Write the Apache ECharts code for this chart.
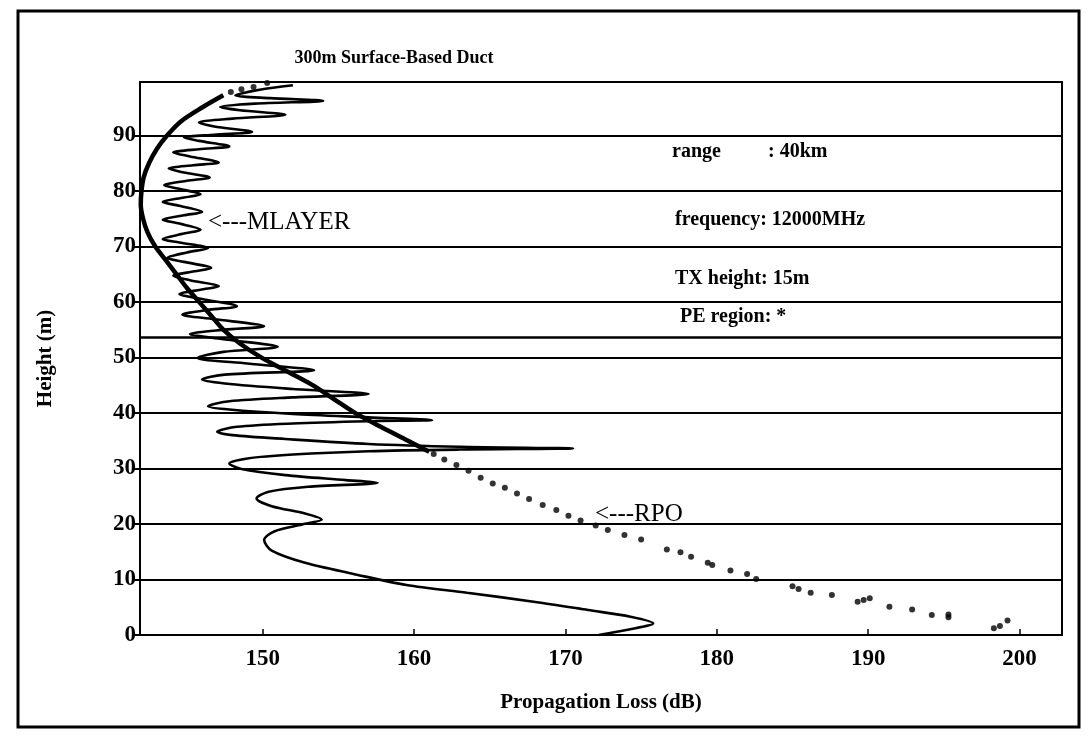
<!DOCTYPE html>
<html>
<head>
<meta charset="utf-8">
<script src="https://cdn.jsdelivr.net/npm/echarts@6/dist/echarts.min.js"></script>
<style>html,body{margin:0;padding:0;background:#fff;}#c{width:1089px;height:746px;}</style>
</head>
<body>
<div id="c"></div>
<script>
// ---- data ----
var xTicks = [150, 160, 170, 180, 190, 200];
var yTicks = [0, 10, 20, 30, 40, 50, 60, 70, 80, 90];
var peRegionHeight = 53.7;

// MLAYER (oscillating curve), loss (dB) and height (m), bottom to top
var mlayerLoss = [172.2,174.2,175.8,174.3,171.5,167.9,163.5,159.5,156.0,152.8,150.6,150.1,150.8,152.6,153.9,152.8,150.6,149.6,150.4,153.0,157.6,155.5,151.5,148.6,147.8,149.0,152.0,157.0,163.0,170.5,163.0,157.0,151.5,148.0,147.0,148.3,152.0,157.0,161.2,157.0,152.0,147.8,146.4,147.8,152.0,157.0,152.0,147.5,146.0,147.5,153.4,149.0,145.7,147.4,151.0,147.3,145.2,147.5,150.1,146.8,144.7,146.5,148.3,146.0,144.5,145.9,147.1,145.2,144.1,145.5,146.6,144.8,143.7,145.0,146.4,144.5,143.4,144.8,145.9,144.5,143.4,144.8,146.0,144.5,143.4,144.8,145.9,144.4,143.5,145.0,146.5,144.8,143.8,145.4,147.1,145.2,144.1,145.8,147.8,145.8,144.8,146.8,149.3,146.8,145.8,148.0,151.5,148.5,147.2,149.5,154.0,150.5,148.2,149.8,152.0];
var mlayerHeight = [0.0,1.0,2.1,3.3,4.5,6.0,7.6,9.0,11.0,13.0,15.2,17.1,18.7,19.9,20.8,21.9,23.2,24.6,25.8,26.7,27.4,27.9,28.8,29.9,30.9,31.8,32.5,33.1,33.4,33.6,33.9,34.4,35.3,36.0,36.6,37.5,38.1,38.5,38.7,39.2,39.8,40.6,41.2,42.1,42.8,43.4,44.3,45.3,46.0,46.9,47.7,48.9,49.9,51.0,51.9,53.3,54.2,55.0,55.6,56.9,57.7,58.6,59.2,60.5,61.4,62.2,62.8,63.9,64.7,65.5,66.1,67.2,67.9,68.9,69.7,70.7,71.3,72.3,73.0,74.1,74.8,75.6,76.2,77.3,78.0,78.8,79.4,80.4,81.0,81.8,82.4,83.3,84.0,84.6,85.1,86.2,86.9,87.5,88.0,89.0,89.6,90.1,90.6,91.6,92.3,93.0,93.7,94.5,95.1,95.7,96.2,96.7,97.2,98.2,99.0];

// RPO smooth (ray-optics) part
var rpoLoss = [147.4,146.0,144.6,143.7,143.0,142.5,142.15,142.0,141.95,142.1,142.4,142.9,143.6,144.3,145.0,145.8,146.6,147.4,148.5,149.9,151.6,153.3,154.7,156.1,157.8,159.6,161.0];
var rpoHeight = [97.2,95.0,92.5,90.0,87.5,85.0,82.5,80.0,77.5,75.0,72.5,70.0,67.5,65.0,62.5,60.0,57.5,55.0,52.5,50.0,47.5,45.0,42.5,40.0,37.5,35.0,33.0];

// RPO dotted part
var rpoDotLoss = [147.9,148.6,149.4,150.3,161.3,162.0,162.8,163.6,164.4,165.2,166.0,166.8,167.6,168.5,169.4,170.2,171.0,172.0,172.8,173.9,175.0,176.7,177.6,178.3,179.4,179.7,180.9,182.0,182.6,185.0,185.4,186.2,187.6,189.3,189.7,190.1,191.4,192.9,194.2,195.3,195.3,198.3,198.7,199.2];
var rpoDotHeight = [97.8,98.3,98.7,99.4,32.6,31.6,30.6,29.6,28.3,27.3,26.5,25.5,24.5,23.4,22.5,21.5,20.6,19.7,18.9,18.0,17.2,15.4,14.9,14.1,13.0,12.6,11.6,11.0,10.1,8.8,8.3,7.6,7.2,6.0,6.3,6.6,5.1,4.6,3.6,3.2,3.7,1.2,1.6,2.6];

function pairs(a, b) { var r = []; for (var i = 0; i < a.length; i++) r.push([a[i], b[i]]); return r; }

var serif = '"Liberation Serif", "DejaVu Serif", serif';
var chart = echarts.init(document.getElementById('c'), null, {renderer: 'canvas'});
chart.setOption({
  animation: false,
  backgroundColor: '#fff',
  title: {
    text: '300m Surface-Based Duct',
    left: 389, top: 44, textAlign: 'center',
    textStyle: {fontFamily: serif, fontWeight: 'bold', fontSize: 18, color: '#000'}
  },
  grid: {left: 140, right: 27, top: 82, bottom: 111, show: true, borderColor: '#000', borderWidth: 2, backgroundColor: 'transparent'},
  xAxis: {
    type: 'value', min: 141.9, max: 202.8,
    name: 'Propagation Loss (dB)', nameLocation: 'middle', nameGap: 57,
    nameTextStyle: {fontFamily: serif, fontWeight: 'bold', fontSize: 21, color: '#000'},
    axisLine: {lineStyle: {color: '#000', width: 2}},
    axisTick: {inside: true, length: 6, customValues: xTicks, lineStyle: {color: '#000', width: 1.5}},
    axisLabel: {customValues: xTicks, margin: 13, fontFamily: serif, fontWeight: 'bold', fontSize: 23, color: '#000'},
    splitLine: {show: false}
  },
  yAxis: {
    type: 'value', min: 0, max: 99.6, interval: 10,
    name: 'Height (m)', nameLocation: 'middle', nameGap: 84, nameRotate: 90,
    nameTextStyle: {fontFamily: serif, fontWeight: 'bold', fontSize: 21, color: '#000'},
    axisLine: {show: true, lineStyle: {color: '#000', width: 2}},
    axisTick: {show: true, length: 6, customValues: yTicks, lineStyle: {color: '#000', width: 2}},
    axisLabel: {customValues: yTicks, margin: 4, fontFamily: serif, fontWeight: 'bold', fontSize: 23, color: '#000'},
    splitLine: {show: true, lineStyle: {color: '#000', width: 2}}
  },
  graphic: [
    {type: 'rect', shape: {x: 18, y: 11, width: 1061, height: 716}, style: {fill: 'none', stroke: '#000', lineWidth: 3}, silent: true},
    {type: 'text', left: 672, top: 142, style: {text: 'range', font: 'bold 20px ' + serif, fill: '#000'}},
    {type: 'text', left: 768, top: 142, style: {text: ': 40km', font: 'bold 20px ' + serif, fill: '#000'}},
    {type: 'text', left: 675, top: 210, style: {text: 'frequency: 12000MHz', font: 'bold 20px ' + serif, fill: '#000'}},
    {type: 'text', left: 675, top: 269, style: {text: 'TX height: 15m', font: 'bold 20px ' + serif, fill: '#000'}},
    {type: 'text', left: 680, top: 307, style: {text: 'PE region: *', font: 'bold 20px ' + serif, fill: '#000'}},
    {type: 'text', left: 208, top: 210, style: {text: '<---MLAYER', font: '25px ' + serif, fill: '#000'}},
    {type: 'text', left: 595, top: 502, style: {text: '<---RPO', font: '25px ' + serif, fill: '#000'}}
  ],
  series: [
    {
      name: 'MLAYER', type: 'line', data: pairs(mlayerLoss, mlayerHeight),
      showSymbol: false, smooth: 0.3, lineStyle: {color: '#000', width: 2.6}, z: 3,
      markLine: {silent: true, symbol: 'none', label: {show: false},
        lineStyle: {color: '#000', width: 2.5, type: 'solid'}, data: [{yAxis: peRegionHeight}]}
    },
    {
      name: 'RPO', type: 'line', data: pairs(rpoLoss, rpoHeight),
      showSymbol: false, smooth: 0.3, lineStyle: {color: '#000', width: 4.5}, z: 4
    },
    {
      name: 'RPO (PE)', type: 'scatter', data: pairs(rpoDotLoss, rpoDotHeight),
      symbolSize: 6, itemStyle: {color: '#000'}, z: 4
    }
  ]
});
</script>
</body>
</html>
